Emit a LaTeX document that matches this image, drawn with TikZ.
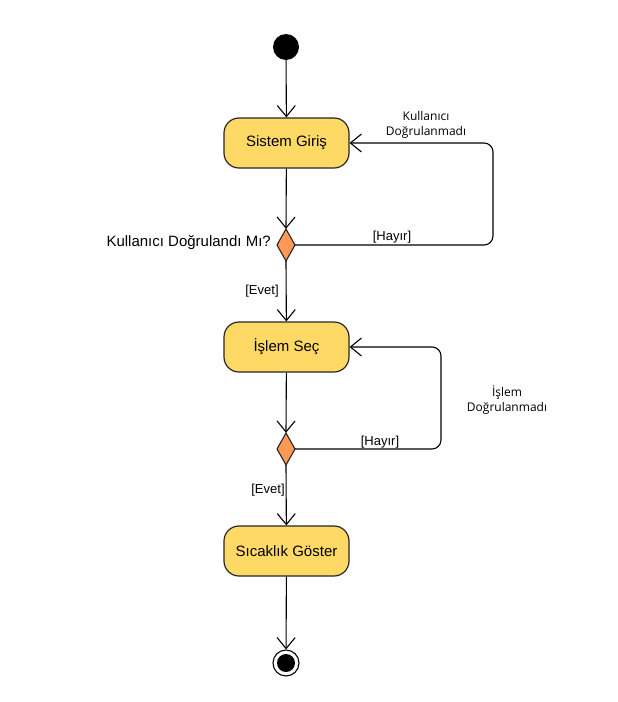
\documentclass[tikz,border=0pt]{standalone}
\usepackage{fontspec}
\setmainfont{Liberation Sans}
\newfontfamily\notefont{Open Sans}
\usetikzlibrary{arrows.meta,shapes.geometric}
\definecolor{actfill}{HTML}{FFD966}
\definecolor{decfill}{HTML}{FF9955}
\tikzset{
  act/.style={draw=black!85,line width=1.2pt,fill=actfill,rounded corners=15pt,minimum width=125pt,minimum height=50pt,inner sep=0pt,font=\fontsize{15}{17}\selectfont},
  decshape/.style={draw=black!85,line width=1.1pt,fill=decfill},
  pt/.style={inner sep=0pt,minimum size=0pt},
  flow/.style={draw=black,line width=1.1pt,-{Straight Barb[length=11pt,width=18pt,line width=1.1pt]}},
  guard/.style={font=\fontsize{13}{15}\selectfont,inner sep=0pt},
  note/.style={font=\notefont\fontsize{12}{15}\selectfont,align=center,inner sep=0pt},
}
\begin{document}
\begin{tikzpicture}[x=1pt,y=-1pt]
\useasboundingbox (0,0) rectangle (618,702);
\node[circle,fill=black,minimum size=26pt,inner sep=0pt] (start) at (286,47) {};
\node[act] (a1) at (286.5,143) {Sistem Giriş};
\node[act] (a2) at (286.5,347) {İşlem Seç};
\node[act] (a3) at (286.5,551) {Sıcaklık Göster};
\node[pt] (d1t) at (286,229) {};
\node[pt] (d1b) at (286,261) {};
\node[pt] (d1r) at (295,245) {};
\draw[decshape] (277,245) -- (286,229) -- (295,245) -- (286,261) -- cycle;
\node[pt] (d2t) at (286,433) {};
\node[pt] (d2b) at (286,465) {};
\node[pt] (d2r) at (295,449) {};
\draw[decshape] (277,449) -- (286,433) -- (295,449) -- (286,465) -- cycle;
\node[circle,draw=black,line width=1.1pt,minimum size=26pt,inner sep=0pt] (endo) at (286,663) {};
\node[circle,fill=black,minimum size=18pt,inner sep=0pt] (endi) at (286,663) {};
\coordinate (c1a) at (493,245);
\coordinate (c1b) at (493,143);
\coordinate (c2a) at (441,449);
\coordinate (c2b) at (441,347);
\draw[flow] (start) -- (a1);
\draw[flow] (a1) -- (d1t);
\draw[flow] (d1b) -- (a2);
\draw[flow] (a2) -- (d2t);
\draw[flow] (d2b) -- (a3);
\draw[flow] (a3) -- (endo);
\draw[flow,rounded corners=9pt] (d1r) -- (c1a) -- (c1b) -- (a1.east);
\draw[flow,rounded corners=9pt] (d2r) -- (c2a) -- (c2b) -- (a2.east);
\node[font=\fontsize{15}{17}\selectfont,anchor=east,inner sep=0pt] (q1) at (271,243) {Kullanıcı Doğrulandı Mı?};
\node[note] (n1) at (426,125) {Kullanıcı\\Doğrulanmadı};
\node[note] (n2) at (507,400) {İşlem\\Doğrulanmadı};
\node[guard] (h1) at (392,237) {[Hayır]};
\node[guard] (h2) at (380,442) {[Hayır]};
\node[guard] (e1) at (262,291) {[Evet]};
\node[guard] (e2) at (268,490) {[Evet]};
\end{tikzpicture}
\end{document}
